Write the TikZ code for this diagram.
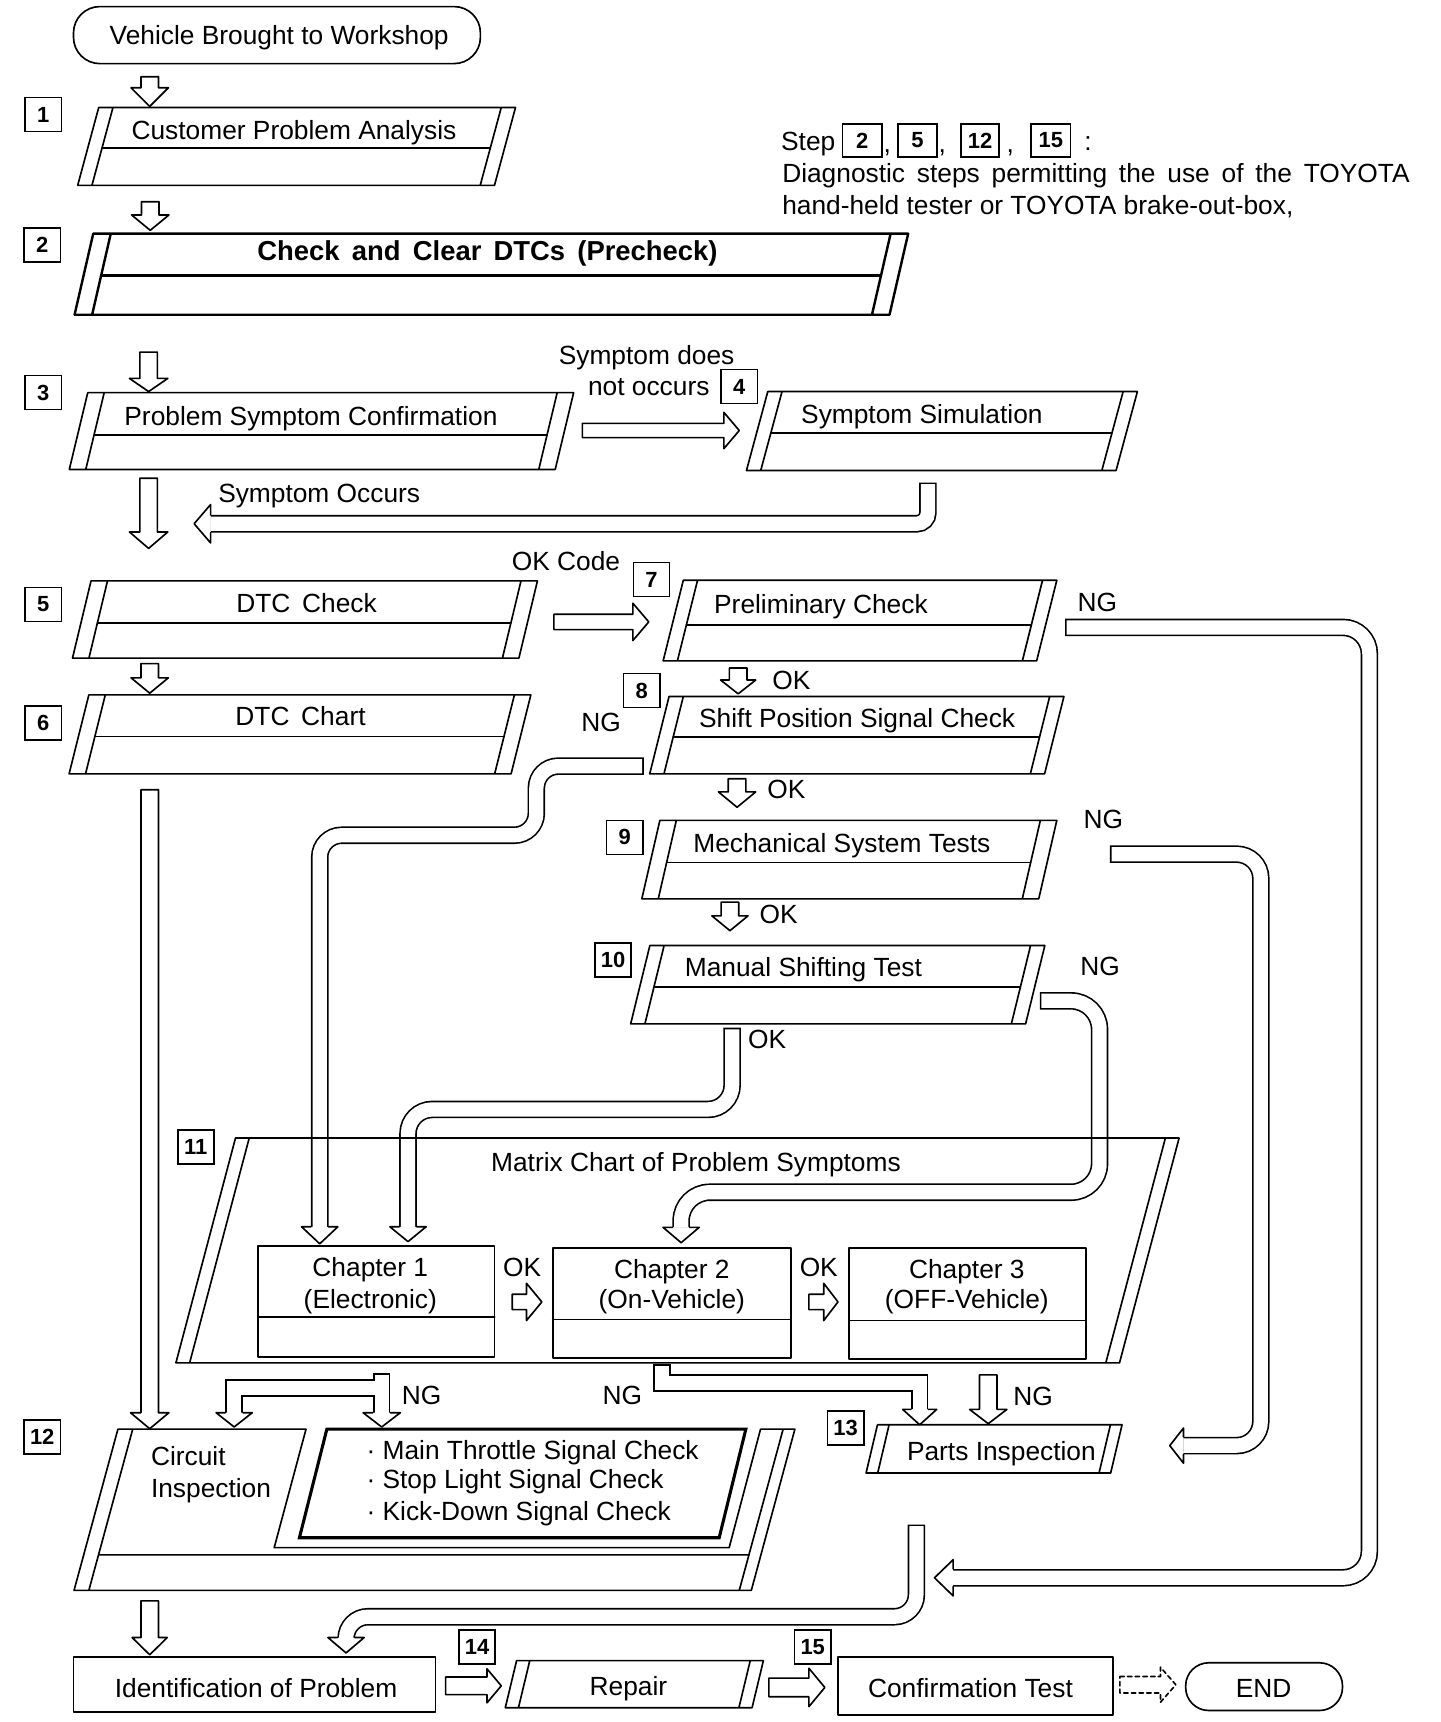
\documentclass[tikz,border=0pt]{standalone}
\usepackage{fontspec}
\setmainfont{Liberation Sans}
\tikzset{
  ln/.style={line width=1.5pt, line cap=round, line join=round},
  txt/.style={font=\fontsize{24}{29}\selectfont, inner sep=0pt, text height=17.5pt, text depth=5pt},
  num/.style={draw, line width=1.5pt, minimum width=33pt, minimum height=31pt, inner sep=0pt, font=\fontsize{20}{20}\selectfont\bfseries},
  bandout/.style={line width=16pt, draw=black, line cap=butt},
  bandin/.style={line width=13pt, draw=white, line cap=butt, shorten <=1.5pt},
}
\newcommand\bandpath[2][]{\draw[bandout,#1] #2; \draw[bandin,#1] #2;}
% down head: x, yback, ytip, half
\newcommand\myHeadD[4]{%
  \fill[white] (#1-#4,#2) -- (#1,#3) -- (#1+#4,#2) -- cycle;
  \draw[ln] (#1-8,#2) -- (#1-#4,#2) -- (#1,#3) -- (#1+#4,#2) -- (#1+8,#2);}
% left head: y, xback, xtip, half
\newcommand\myHeadL[4]{%
  \fill[white] (#2,#1-#4) -- (#3,#1) -- (#2,#1+#4) -- cycle;
  \draw[ln] (#2,#1-8) -- (#2,#1-#4) -- (#3,#1) -- (#2,#1+#4) -- (#2,#1+8);}
% straight down block arrow: x, ytop, yback, ytip, s, h
\newcommand\myArrD[6]{%
  \draw[ln,fill=white] (#1-#5,#2) -- (#1+#5,#2) -- (#1+#5,#3) -- (#1+#6,#3) -- (#1,#4) -- (#1-#6,#3) -- (#1-#5,#3) -- cycle;}
% straight right block arrow: y, xleft, xback, xtip, s, h, style
\newcommand\myArrR[7]{%
  \draw[ln,fill=white,#7] (#2,#1-#5) -- (#3,#1-#5) -- (#3,#1-#6) -- (#4,#1) -- (#3,#1+#6) -- (#3,#1+#5) -- (#2,#1+#5) -- cycle;}
% parallelogram with double slanted sides
\newcommand\myPg[8]{%
  \pgfmathsetmacro\myDD{#7*(#4-#3)}%
  \draw[ln,#8] (#1,#3) -- (#2,#3) (#1-\myDD,#4) -- (#2-\myDD,#4)
     (#1,#3) -- (#1-\myDD,#4) (#1+#6,#3) -- (#1+#6-\myDD,#4)
     (#2,#3) -- (#2-\myDD,#4) (#2-#6,#3) -- (#2-#6-\myDD,#4);%
  \ifdim #5pt>0pt
    \pgfmathsetmacro\myMM{#7*(#5-#3)}%
    \draw[ln,#8] (#1+#6-\myMM,#5) -- (#2-#6-\myMM,#5);%
  \fi}
\begin{document}
\begin{tikzpicture}[x=1pt,y=-1pt]
\useasboundingbox (0,0) rectangle (1313,1570);

% ---------- curved band arrows ----------
% Symptom occurs
\bandpath[rounded corners=10pt]{(846,440) -- (846,477.5) -- (192,477.5)}
\myHeadL{477.5}{192}{177}{17.5}
% NG from 7 (big loop)
\bandpath[rounded corners=24pt]{(971,572) -- (1248.5,572) -- (1248.5,1438.5) -- (869,1438.5)}
\myHeadL{1438.5}{869}{852}{16.5}
% NG from 8 to chapter 1
\bandpath[rounded corners=20pt]{(587,698.5) -- (489,698.5) -- (489,761.5) -- (291.5,761.5) -- (291.5,1118.5)}
\myHeadD{291.5}{1118.5}{1134}{16.5}
% OK from 10 to chapter 1
\bandpath[rounded corners=22pt]{(667.5,937) -- (667.5,1011.5) -- (372,1011.5) -- (372,1118.5)}
\myHeadD{372}{1118.5}{1132}{16.5}
% NG from 10 to chapter 2
\bandpath[rounded corners=26pt]{(948,912.5) -- (1002.5,912.5) -- (1002.5,1087) -- (621,1087) -- (621,1119)}
\myHeadD{621}{1119}{1133}{16.5}
% NG from 9 to parts inspection
\bandpath[rounded corners=22pt]{(1012,778.75) -- (1149.5,778.75) -- (1149.5,1318) -- (1079,1318)}
\myHeadL{1318}{1079}{1066.5}{16}
% chapter 2 NG to parts inspection
\bandpath[line join=miter]{(603.5,1244) -- (603.5,1261) -- (838.5,1261) -- (838.5,1285)}
\myHeadD{838.5}{1285}{1299}{15.5}
% chapter 1 NG split to circuit inspection
\draw[bandout] (348,1252) -- (348,1288);
\draw[bandout,line join=miter] (348,1265.5) -- (213.5,1265.5) -- (213.5,1288);
\draw[bandin] (348,1252) -- (348,1288);
\draw[bandin,line join=miter] (348,1265.5) -- (213.5,1265.5) -- (213.5,1288);
\myHeadD{348}{1288}{1301}{17}
\myHeadD{213.5}{1288}{1301}{16.5}
% parts inspection to identification
\bandpath[rounded corners=20pt]{(835.5,1390) -- (835.5,1474) -- (315.5,1474) -- (315.5,1493)}
\myHeadD{315.5}{1493}{1507}{16.5}

% ---------- straight block arrows ----------
\myArrD{136.5}{70}{80}{97}{8}{17}
\myArrD{137}{184}{196}{210}{8}{17}
\myArrD{135.5}{321}{345}{357}{8}{17.5}
\myArrD{135.5}{436}{485}{500}{8}{17.5}
\myArrD{136.5}{605}{618}{632}{8}{17}
\myArrD{673}{609}{620}{632.6}{8}{16}
\myArrD{672}{710}{722}{736}{8}{17}
\myArrD{665.5}{822.5}{835}{848.5}{8}{16.5}
\myArrD{136.5}{720}{1288}{1302.6}{8}{17.5}
\myArrD{136.5}{1459.5}{1493}{1508.7}{8}{16}
\myArrD{901}{1253.5}{1285}{1298}{8}{17}
\myArrR{392.5}{531}{660}{674}{6.5}{16.5}{}
\myArrR{567}{505}{577}{591.5}{7}{17}{}
\myArrR{1187}{467}{480}{494}{7}{17}{}
\myArrR{1187}{737.5}{751}{764}{7}{17}{}
\myArrR{1537}{406.3}{444}{457}{8}{15.5}{}
\myArrR{1538.5}{701}{737.5}{752}{8.5}{17.5}{}
\myArrR{1536}{1021}{1058}{1072}{7.5}{16}{dash pattern=on 4pt off 3pt}

% ---------- boxes ----------
\draw[ln,rounded corners=24pt] (67,6) rectangle (438,58);
\myPg{90}{470}{98}{169}{135}{13}{0.27}{}
\myPg{85}{828}{213}{287}{251}{16}{0.23}{line width=2.2pt}
\myPg{80}{523}{358}{428}{396.5}{15}{0.24}{}
\myPg{700}{1037}{357}{429}{394.5}{13}{0.27}{}
\myPg{83}{490}{529.6}{600}{568}{15}{0.24}{}
\myPg{81}{484}{633.5}{705.6}{671.5}{15}{0.25}{}
\myPg{623}{963.5}{529}{602.5}{570}{13}{0.25}{}
\myPg{610}{970}{635}{705.6}{672}{13}{0.25}{}
\myPg{601.6}{963.5}{748}{819.5}{786.5}{15}{0.23}{}
\myPg{592.5}{952.6}{862}{933.5}{900}{13}{0.245}{}
\myPg{214.7}{1075}{1037.6}{1242.6}{-1}{12.5}{0.265}{}
\myPg{800}{1023}{1299}{1343}{-1}{10.6}{0.236}{}
\myPg{471}{696}{1514}{1557}{-1}{12}{0.24}{}
% chapters
\draw[ln] (235,1136) rectangle (451,1237) (235,1200.5) -- (451,1200.5);
\draw[ln] (504,1138) rectangle (721,1238) (504,1203) -- (721,1203);
\draw[ln] (774,1138) rectangle (990,1239) (774,1204) -- (990,1204);
% box 12
\draw[ln] (107.5,1303) -- (279,1303) (693.4,1303) -- (724.7,1303)
  (107.5,1303) -- (67.5,1450) (121,1303) -- (81,1450)
  (724.7,1303) -- (685,1450) (714,1303) -- (674,1450)
  (67.5,1450) -- (685,1450) (89.8,1417.6) -- (682.8,1417.6)
  (279,1303) -- (250,1411) -- (664.8,1411) -- (693.4,1303);
\draw[ln,line width=2.8pt,line join=miter] (298,1303) -- (273,1402) -- (655.7,1402) -- (680,1303) -- cycle;
% identification, confirmation, end
\draw[ln] (67,1510.5) rectangle (397,1561);
\draw[ln] (764,1511) rectangle (1014.6,1563.5);
\draw[ln,rounded corners=21pt] (1081,1516) rectangle (1224,1559.5);

% ---------- step numbers ----------
\node[num] (n1) at (39.5,104.5) {1};
\node[num] (n2) at (38.5,223.5) {2};
\node[num] (n3) at (39.5,358) {3};
\node[num] (n4) at (674,352.5) {4};
\node[num] (n5) at (39.5,551) {5};
\node[num] (n6) at (39.5,659) {6};
\node[num] (n7) at (594,528.5) {7};
\node[num] (n8) at (585,629.5) {8};
\node[num] (n9) at (569.5,763.5) {9};
\node[num] (n10) at (559,875.5) {10};
\node[num] (n11) at (178.5,1046) {11};
\node[num] (n12) at (38.5,1310) {12};
\node[num] (n13) at (771,1302) {13};
\node[num] (n14) at (435,1501.5) {14};
\node[num] (n15) at (741,1501.5) {15};

% ---------- texts ----------
\node[txt] (t0) at (254.5,34) {Vehicle Brought to Workshop};
\node[txt] (t1) at (268,120.5) {Customer Problem Analysis};
\node[txt,font=\fontsize{25}{29}\selectfont\bfseries] (t2) at (444.5,231) {Check\, and\, Clear\, DTCs\, (Precheck)};
\node[txt] (t3) at (283.5,382) {Problem Symptom Confirmation};
\node[txt] (t4) at (840.5,380) {Symptom Simulation};
\node[txt] (t5) at (279.5,552) {DTC\, Check};
\node[txt] (t6) at (274,655) {DTC\, Chart};
\node[txt] (t7) at (748.5,553.5) {Preliminary Check};
\node[txt] (t8) at (781.5,657) {Shift Position Signal Check};
\node[txt] (t9) at (767.5,771) {Mechanical System Tests};
\node[txt] (t10) at (732.5,884) {Manual Shifting Test};
\node[txt] (t11) at (634.5,1062) {Matrix Chart of Problem Symptoms};
\node[txt] (c1a) at (337.6,1158) {Chapter 1};
\node[txt] (c1b) at (337.6,1187) {(Electronic)};
\node[txt] (c2a) at (612.5,1159) {Chapter 2};
\node[txt] (c2b) at (612.5,1187) {(On-Vehicle)};
\node[txt] (c3a) at (881.5,1159) {Chapter 3};
\node[txt] (c3b) at (881.5,1187) {(OFF-Vehicle)};
\node[txt,anchor=west] (ci1) at (137.5,1330) {Circuit};
\node[txt,anchor=west] (ci2) at (137.5,1358.6) {Inspection};
\node[txt,anchor=west] (l1) at (334,1324) {· Main Throttle Signal Check};
\node[txt,anchor=west] (l2) at (334,1351) {· Stop Light Signal Check};
\node[txt,anchor=west] (l3) at (334,1380) {· Kick-Down Signal Check};
\node[txt] (t13) at (913,1325) {Parts Inspection};
\node[txt] (tid) at (233.5,1541) {Identification of Problem};
\node[txt] (trep) at (573,1540) {Repair};
\node[txt] (tconf) at (884.8,1541) {Confirmation Test};
\node[txt] (tend) at (1152,1541) {END};

% labels
\node[txt] (ls1) at (589.5,326) {Symptom does};
\node[txt] (ls2) at (591.5,354) {not occurs};
\node[txt] (lso) at (291,452) {Symptom Occurs};
\node[txt] (lokc) at (516,514) {OK Code};
\node[txt] (ng7) at (1000.5,551) {NG};
\node[txt] (ok78) at (721.5,622) {OK};
\node[txt] (ng8) at (548,661) {NG};
\node[txt] (ok89) at (717,722) {OK};
\node[txt] (ng9) at (1006,749.5) {NG};
\node[txt] (ok910) at (710,836) {OK};
\node[txt] (ng10) at (1003,883) {NG};
\node[txt] (ok10) at (699.5,950) {OK};
\node[txt] (okc1) at (476,1158) {OK};
\node[txt] (okc2) at (746.5,1158) {OK};
\node[txt] (ngc1) at (384.5,1274) {NG};
\node[txt] (ngc2) at (567.5,1274) {NG};
\node[txt] (ngc3) at (942,1275.5) {NG};

% ---------- legend ----------
\node[txt,anchor=west] (lst) at (712,131) {Step};
\node[num,minimum width=36pt,minimum height=30pt] (lg2) at (786,128) {2};
\node[txt] at (809,133) {,};
\node[num,minimum width=35pt,minimum height=30pt] (lg5) at (836.5,128) {5};
\node[txt] at (859,133) {,};
\node[num,minimum width=35pt,minimum height=30pt] (lg12) at (893.5,128) {12};
\node[txt] at (921,133) {,};
\node[num,minimum width=36pt,minimum height=30pt] (lg15) at (958,128) {15};
\node[txt] at (992,131) {:};
\node[txt,anchor=west] (lgl2) at (713,160) {\makebox[572pt][s]{Diagnostic steps permitting the use of the TOYOTA}};
\node[txt,anchor=west] (lgl3) at (713,189) {hand-held tester or TOYOTA brake-out-box,};
\end{tikzpicture}
\end{document}
